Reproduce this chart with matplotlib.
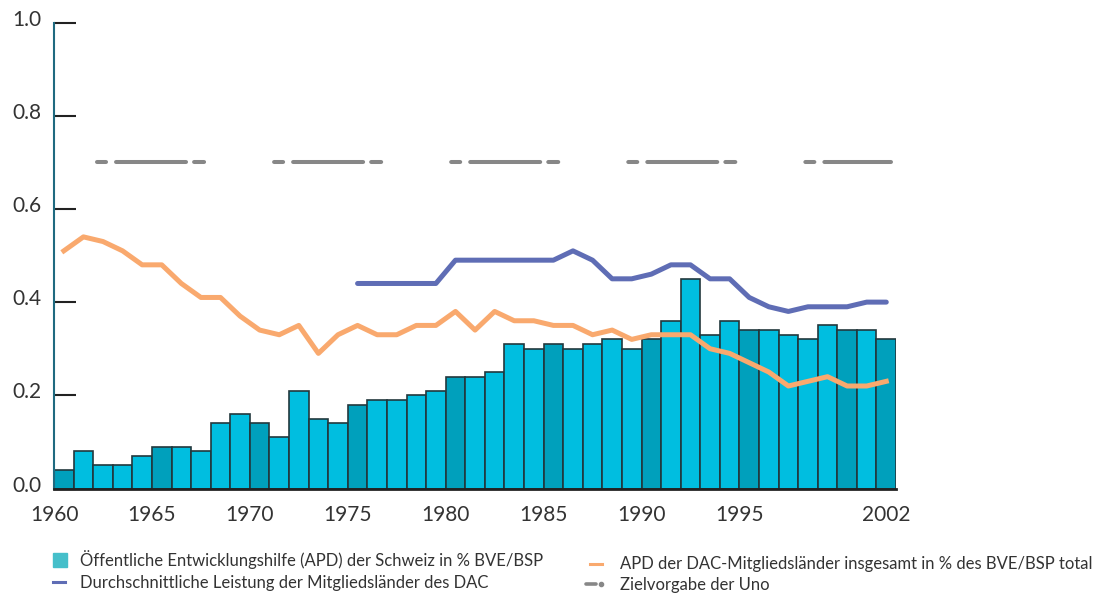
import matplotlib.pyplot as plt
from matplotlib.lines import Line2D
from matplotlib.patches import Rectangle
from matplotlib.transforms import ScaledTranslation

plt.rcParams['font.family'] = ['Lato', 'DejaVu Sans']
plt.rcParams['lines.scale_dashes'] = False

# data
years = list(range(1960, 2003))
swiss = [0.04, 0.08, 0.05, 0.05, 0.07, 0.09, 0.09, 0.08, 0.14, 0.16,
         0.14, 0.11, 0.21, 0.15, 0.14, 0.18, 0.19, 0.19, 0.20, 0.21,
         0.24, 0.24, 0.25, 0.31, 0.30, 0.31, 0.30, 0.31, 0.32, 0.30,
         0.32, 0.36, 0.45, 0.33, 0.36, 0.34, 0.34, 0.33, 0.32, 0.35,
         0.34, 0.34, 0.32]
dac_total = [0.51, 0.54, 0.53, 0.51, 0.48, 0.48, 0.44, 0.41, 0.41, 0.37,
             0.34, 0.33, 0.35, 0.29, 0.33, 0.35, 0.33, 0.33, 0.35, 0.35,
             0.38, 0.34, 0.38, 0.36, 0.36, 0.35, 0.35, 0.33, 0.34, 0.32,
             0.33, 0.33, 0.33, 0.30, 0.29, 0.27, 0.25, 0.22, 0.23, 0.24,
             0.22, 0.22, 0.23]
avg_years = list(range(1975, 2003))
dac_avg = [0.44, 0.44, 0.44, 0.44, 0.44, 0.49, 0.49, 0.49, 0.49, 0.49,
           0.49, 0.51, 0.49, 0.45, 0.45, 0.46, 0.48, 0.48, 0.45, 0.45,
           0.41, 0.39, 0.38, 0.39, 0.39, 0.39, 0.40, 0.40]
un_target = 0.7
target_span = [1962.2, 2002.75]

xtick_pos = [1960, 1965, 1970, 1975, 1980, 1985, 1990, 1995, 2002.5]
xtick_lab = ['1960', '1965', '1970', '1975', '1980', '1985', '1990', '1995', '2002']

light = '#00bee0'
dark = '#00a0bc'
orange = '#f9a96e'
blue = '#5f6db5'
grey = '#878787'
spinecol = '#1f6a80'
txtcol = '#333333'

W, H = 1103, 597
fig = plt.figure(figsize=(W / 100, H / 100), dpi=100)
ax = fig.add_axes([0.049, 0.1817, 0.7634, 0.7806])

cols = [dark if (y % 5 == 0 or y == 2002) else light for y in years]
ax.bar(years, swiss, width=1.0, align='edge', color=cols,
       edgecolor='#22383d', linewidth=1.2, zorder=2)

centers = [y + 0.5 for y in years]
ax.plot(centers, dac_total, color=orange, lw=3.6, zorder=3)
ax.plot([y + 0.5 for y in avg_years], dac_avg, color=blue, lw=3.6,
        solid_capstyle='round', zorder=3)
ax.plot(target_span, [un_target, un_target], color=grey, lw=2.9,
        dash_capstyle='round', dashes=[6.5, 7.2, 50.4, 5.8, 7.2, 50.4], zorder=4)

ax.set_xlim(1960, 2003)
ax.set_ylim(0, 1.0)
for s in ['top', 'right']:
    ax.spines[s].set_visible(False)
ax.spines['left'].set_color(spinecol)
ax.spines['left'].set_linewidth(1.5)
ax.spines['bottom'].set_color('#222222')
ax.spines['bottom'].set_linewidth(2)
ax.spines['bottom'].set_zorder(5)

ax.set_yticks([0, 0.2, 0.4, 0.6, 0.8, 1.0])
ax.set_yticklabels(['0.0', '0.2', '0.4', '0.6', '0.8', '1.0'])
ax.tick_params(axis='y', direction='in', length=16, width=1.5, color='#222222',
               pad=9, labelsize=15, labelcolor=txtcol)
for lab in ax.get_yticklabels():
    lab.set_transform(lab.get_transform() + ScaledTranslation(0, 0.05, fig.dpi_scale_trans))
ax.set_xticks(xtick_pos)
ax.set_xticklabels(xtick_lab)
ax.tick_params(axis='x', length=0, pad=12, labelsize=15, labelcolor=txtcol)


# legend, placed by hand in pixel positions
def fx(px):
    return px / W


def fy(py):
    return 1 - py / H


tf = fig.transFigure
fig.add_artist(Rectangle((fx(53), fy(567)), 14 / W, 14 / H, color='#45bfca', transform=tf))
fig.add_artist(Line2D([fx(53), fx(65)], [fy(582), fy(582)], color=blue, lw=2.2, transform=tf))
fig.add_artist(Line2D([fx(590), fx(602)], [fy(564), fy(564)], color=orange, lw=2.2, transform=tf))
fig.add_artist(Line2D([fx(586), fx(596)], [fy(584), fy(584)], color=grey, lw=2.6,
                      solid_capstyle='round', transform=tf))
fig.add_artist(Line2D([fx(601)], [fy(584)], color=grey, marker='o', ms=3, lw=0, transform=tf))

leg_text = [(80, 560, 'Öffentliche Entwicklungshilfe (APD) der Schweiz in % BVE/BSP'),
            (80, 583, 'Durchschnittliche Leistung der Mitgliedsländer des DAC'),
            (620, 564, 'APD der DAC-Mitgliedsländer insgesamt in % des BVE/BSP total'),
            (620, 585, 'Zielvorgabe der Uno')]
for px, py, s in leg_text:
    fig.text(fx(px), fy(py), s, fontsize=12, color=txtcol, ha='left', va='center')

fig.savefig('out.png', dpi=100)
